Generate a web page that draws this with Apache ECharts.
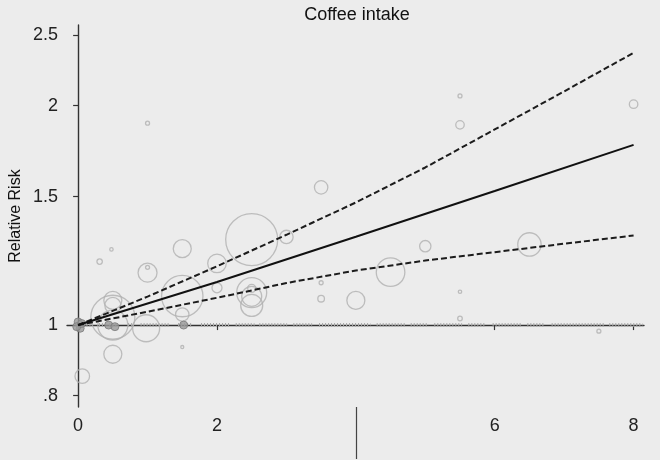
<!DOCTYPE html>
<html><head><meta charset="utf-8">
<script src="https://cdn.jsdelivr.net/npm/echarts@6/dist/echarts.min.js"></script>
<style>html,body{margin:0;padding:0;background:#ececec}#c{width:660px;height:460px}</style>
</head><body><div id="c"></div>
<script>
// ---- data ----
const chartTitle = 'Coffee intake';
const yAxisName = 'Relative Risk';
const xTickValues = [0, 2, 6, 8];
const xExtraTick = [4];
const yTickValues = [0.8, 1, 1.5, 2, 2.5];
const yTickLabels = ['.8', '1', '1.5', '2', '2.5'];
const xRange = [-0.16, 8.15];
const yRange = [0.772, 2.58];

// individual study estimates (dose in cups/day, relative risk, relative weight)
const studyDose = [0.06, 0.31, 0.48, 0.5, 0.5, 0.5, 0.5, 0.5, 1.0, 1.0, 1.0, 0.98, 1.5, 1.5, 1.5, 1.5, 2.0, 2.0, 2.5, 3.0, 2.5, 2.5, 2.5, 2.5, 3.5, 3.5, 3.5, 4.0, 4.5, 5.0, 5.5, 5.5, 5.5, 5.5, 6.5, 7.5, 8.0];
const studyRR = [0.851, 1.222, 1.27, 1.025, 1.0, 1.081, 1.064, 0.912, 1.892, 1.18, 1.20, 0.99, 1.273, 1.096, 1.034, 0.933, 1.215, 1.125, 1.31, 1.321, 1.108, 1.095, 1.064, 1.123, 1.545, 1.143, 1.087, 1.081, 1.182, 1.283, 2.062, 1.882, 1.111, 1.021, 1.29, 0.981, 2.009];
const studyWeight = [5.3, 0.73, 0.29, 48.4, 22.5, 8.1, 6.4, 8.1, 0.4, 9.0, 0.4, 18.2, 8.1, 42.8, 4.5, 0.23, 8.6, 2.5, 67.6, 4.5, 22.5, 10.0, 12.1, 1.6, 4.5, 0.4, 1.1, 8.1, 20.4, 3.2, 0.4, 1.8, 0.29, 0.53, 13.7, 0.4, 1.8];

// reference categories
const refDose = [0.0, 0.03, -0.02, 0.05, 0.44, 0.53, 1.52];
const refRR = [1.01, 0.99, 0.995, 1.005, 1.0, 0.995, 1.0];

// pooled dose-response and confidence band
const fitDose = [0, 2, 4, 6, 8];
const fitRR = [1, 1.146, 1.322, 1.527, 1.767];
const ciDose = [0, 1, 2, 3, 4, 5, 6, 7, 8];
const ciUpper = [1, 1.094, 1.204, 1.33, 1.473, 1.645, 1.855, 2.092, 2.363];
const ciLower = [1, 1.043, 1.09, 1.142, 1.188, 1.226, 1.259, 1.293, 1.327];

// rug of reference line at RR = 1 (dose extents)
const rugSegments = [[0.12, 0.2], [0.3, 0.36], [0.45, 0.55], [0.72, 0.8], [0.9, 1.33], [1.44, 1.64], [1.77, 2.18], [2.27, 2.54], [2.61, 3.01], [3.1, 3.37], [3.47, 4.21], [4.3, 4.71], [4.79, 5.05], [5.13, 5.53], [5.62, 5.87], [5.97, 6.38], [6.47, 6.72], [6.82, 7.57], [7.65, 8.13]];

// ---- chart ----
const L = Math.log;
const font = 'Liberation Sans, Arial, sans-serif';
const axisColor = '#333';

const chart = echarts.init(document.getElementById('c'), null, {renderer: 'canvas'});
chart.setOption({
  backgroundColor: '#ececec',
  animation: false,
  title: {
    text: chartTitle, left: 352, top: 1, textAlign: 'center',
    textStyle: {fontFamily: font, fontSize: 18, fontWeight: 'normal', color: '#111'}
  },
  grid: {left: 67, right: 16, top: 25, bottom: 53, containLabel: false, outerBoundsMode: 'none'},
  xAxis: [{
    type: 'value', min: xRange[0], max: xRange[1],
    axisLine: {show: true, lineStyle: {color: axisColor, width: 1.4}},
    axisTick: {show: true, length: 5, customValues: xTickValues, lineStyle: {color: axisColor, width: 1.2}},
    axisLabel: {customValues: xTickValues, margin: 10, fontFamily: font, fontSize: 18, color: '#222'},
    splitLine: {show: false}
  }, {
    type: 'value', min: xRange[0], max: xRange[1], position: 'bottom', offset: 0,
    axisLine: {show: false},
    axisTick: {show: true, length: 52, customValues: xExtraTick, lineStyle: {color: '#444', width: 1.2}},
    axisLabel: {show: false},
    splitLine: {show: false}
  }],
  yAxis: {
    type: 'value', min: L(yRange[0]), max: L(yRange[1]),
    name: yAxisName, nameLocation: 'middle', nameGap: 43, nameRotate: 90, nameMoveOverlap: false,
    nameTextStyle: {fontFamily: font, fontSize: 16, color: '#111'},
    axisLine: {show: true, lineStyle: {color: axisColor, width: 1.4}},
    axisTick: {show: true, length: 5, customValues: yTickValues.map(L), lineStyle: {color: axisColor, width: 1.2}},
    axisLabel: {
      customValues: yTickValues.map(L), margin: 9, fontFamily: font, fontSize: 18, color: '#222',
      formatter: function (v) {
        for (let i = 0; i < yTickValues.length; i++) {
          if (Math.abs(L(yTickValues[i]) - v) < 1e-6) return yTickLabels[i];
        }
        return '';
      }
    },
    splitLine: {show: false}
  },
  series: [
    {
      type: 'custom', silent: true, z: 1,
      data: rugSegments.map(s => [s[0], s[1]]),
      encode: {x: [0, 1]},
      renderItem: function (params, api) {
        const p0 = api.coord([api.value(0), 0]);
        const p1 = api.coord([api.value(1), 0]);
        return {
          type: 'line',
          shape: {x1: p0[0], y1: p0[1], x2: p1[0], y2: p1[1]},
          style: {stroke: '#a8a8a8', lineWidth: 4, lineDash: [1, 2], lineCap: 'butt', fill: null}
        };
      }
    },
    {
      type: 'scatter', z: 2, silent: true,
      data: studyDose.map((d, i) => [d, L(studyRR[i]), studyWeight[i]]),
      symbol: 'circle',
      symbolSize: v => 2 * Math.sqrt(v[2] * 10),
      itemStyle: {color: 'rgba(0,0,0,0)', borderColor: '#b0b0b0', borderWidth: 1.3}
    },
    {
      type: 'scatter', z: 3, silent: true,
      data: refDose.map((d, i) => [d, L(refRR[i])]),
      symbol: 'circle', symbolSize: 8,
      itemStyle: {color: '#9a9a9a', borderColor: '#7a7a7a', borderWidth: 1}
    },
    {
      type: 'line', z: 4, silent: true, symbol: 'none',
      data: ciDose.map((d, i) => [d, L(ciUpper[i])]), smooth: false,
      lineStyle: {color: '#1c1c1c', width: 2, type: [6, 3]}
    },
    {
      type: 'line', z: 4, silent: true, symbol: 'none',
      data: ciDose.map((d, i) => [d, L(ciLower[i])]), smooth: false,
      lineStyle: {color: '#1c1c1c', width: 2, type: [6, 3]}
    },
    {
      type: 'line', z: 4, silent: true, symbol: 'none',
      data: fitDose.map((d, i) => [d, L(fitRR[i])]),
      lineStyle: {color: '#111', width: 2, type: 'solid'}
    }
  ]
});
</script>
</body></html>
